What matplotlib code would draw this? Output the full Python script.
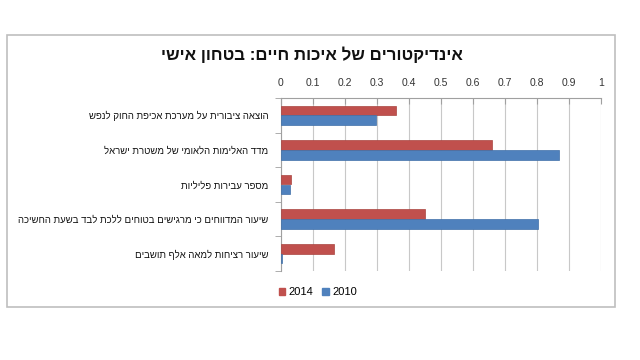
import matplotlib
matplotlib.use("Agg")
import matplotlib.pyplot as plt
from matplotlib.patches import Rectangle, Patch
import numpy as np

plt.rcParams['font.family'] = ['Liberation Sans', 'DejaVu Sans']

title = "אינדיקטורים של איכות חיים: בטחון אישי"
categories = [
    "הוצאה ציבורית על מערכת אכיפת החוק לנפש",
    "מדד האלימות הלאומי של משטרת ישראל",
    "מספר עבירות פליליות",
    "שיעור המדווחים כי מרגישים בטוחים ללכת לבד בשעת החשיכה",
    "שיעור רציחות למאה אלף תושבים",
]
series_names = ["2014", "2010"]
values_2014 = [0.358, 0.660, 0.030, 0.449, 0.167]
values_2010 = [0.296, 0.870, 0.029, 0.803, 0.002]
xticks = [0, 0.1, 0.2, 0.3, 0.4, 0.5, 0.6, 0.7, 0.8, 0.9, 1]
xtick_labels = ["0", "0.1", "0.2", "0.3", "0.4", "0.5", "0.6", "0.7", "0.8", "0.9", "1"]

red = "#C0504D"
blue = "#4F81BD"

def rtl(s):
    return s[::-1]

fig = plt.figure(figsize=(6.4, 3.6), dpi=100)
fig.patch.set_facecolor("white")
fig.patches.append(Rectangle((7/640, 1-307/360), 608/640, 272/360, transform=fig.transFigure,
                             fill=False, edgecolor="#BFBFBF", linewidth=1.2))

ax = fig.add_axes([281/640, 1-271/360, 320/640, 173/360])
y = np.arange(len(categories))
h = 0.28
ax.barh(y - h/2, values_2014, height=h, color=red, edgecolor="#A94440", linewidth=0.5, label=series_names[0], zorder=3)
ax.barh(y + h/2, values_2010, height=h, color=blue, edgecolor="#3F6FA8", linewidth=0.5, label=series_names[1], zorder=3)

ax.set_xlim(0, 1)
ax.set_ylim(len(categories) - 0.5, -0.5)
ax.xaxis.tick_top()
ax.set_xticks(xticks)
ax.set_xticklabels(xtick_labels, fontsize=7.5, color="#333333")
ax.tick_params(axis="x", direction="in", length=4, color="#A0A0A0", pad=7.5)
ax.grid(axis="x", color="#C8C8C8", linewidth=0.8, zorder=0)

ax.set_yticks(y)
ax.set_yticklabels([rtl(c) for c in categories], fontsize=6.9, color="#111111")
ax.tick_params(axis="y", length=0, pad=9)
ax.set_yticks(np.arange(-0.5, len(categories), 1), minor=True)
ax.tick_params(axis="y", which="minor", length=4, color="#A0A0A0")

for s in ["right", "bottom"]:
    ax.spines[s].set_visible(False)
for s in ["top", "left"]:
    ax.spines[s].set_color("#A0A0A0")
    ax.spines[s].set_linewidth(0.8)

fig.text(312/640, 1-55/360, rtl(title), fontsize=12.2, fontweight="bold", ha="center", va="center", color="#111111")

handles = [Patch(color=red, label=series_names[0]), Patch(color=blue, label=series_names[1])]
fig.legend(handles=handles, loc="center", bbox_to_anchor=(318/640, 1-292/360), ncol=2, frameon=False,
           fontsize=8, handlelength=0.6, handleheight=0.6, handletextpad=0.3, columnspacing=0.8)

fig.savefig("out.png", dpi=100, facecolor="white")
